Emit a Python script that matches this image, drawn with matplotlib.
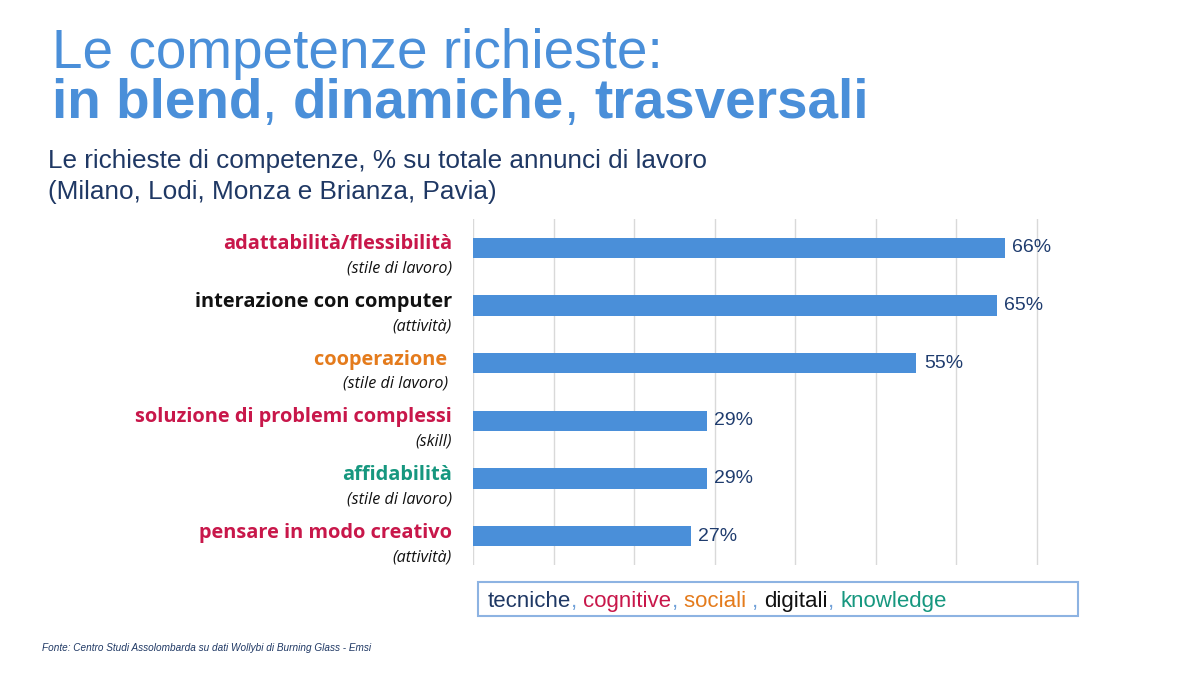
import matplotlib
matplotlib.use("Agg")
import matplotlib.pyplot as plt
from matplotlib.transforms import blended_transform_factory, offset_copy

# dati
skills = ["adattabilità/flessibilità", "interazione con computer", "cooperazione ",
          "soluzione di problemi complessi", "affidabilità", "pensare in modo creativo"]
kinds = ["(stile di lavoro)", "(attività)", "(stile di lavoro) ", "(skill)",
         "(stile di lavoro)", "(attività)"]
groups = ["cognitive", "digitali", "sociali", "cognitive", "knowledge", "cognitive"]
values = [66, 65, 55, 29, 29, 27]

legend_words = ["tecniche", "cognitive", "sociali ", "digitali", "knowledge"]
legend_groups = ["tecniche", "cognitive", "sociali", "digitali", "knowledge"]

group_color = {
    "tecniche": "#1F3864",
    "cognitive": "#C8174A",
    "sociali": "#E47B1C",
    "digitali": "#111111",
    "knowledge": "#16977F",
}
BLUE = "#4A8FD9"
NAVY = "#1F3C6E"

W, H = 1200, 674
fig = plt.figure(figsize=(12, 6.74), dpi=100)
fig.patch.set_facecolor("white")


def runs(x, y, pieces, **common):
    # scrive pezzi di testo uno dopo l'altro (coordinate in pixel dall'alto)
    r = fig.canvas.get_renderer()
    for s, kw in pieces:
        t = fig.text(x / W, 1 - y / H, s, ha="left", va="baseline", **common, **kw)
        bb = t.get_window_extent(renderer=r)
        x = bb.x1


# titolo
runs(52, 68, [("Le competenze richieste:", {})], fontsize=39.5, color=BLUE,
     family="Liberation Sans")
runs(52, 118, [("in blend", {"fontweight": "bold"}), (", ", {}),
               ("dinamiche", {"fontweight": "bold"}), (", ", {}),
               ("trasversali", {"fontweight": "bold"})],
     fontsize=39.5, color=BLUE, family="Liberation Sans")

# sottotitolo
runs(48, 168, [("Le richieste di competenze, % su totale annunci di lavoro", {})],
     fontsize=18.8, color="#1F3864", family="Liberation Sans")
runs(48, 199, [("(Milano, Lodi, Monza e Brianza, Pavia)", {})],
     fontsize=18.8, color="#1F3864", family="Liberation Sans")

# grafico a barre
ax = fig.add_axes([473 / W, 1 - 565 / H, 566.4 / W, 346 / H])
y = list(range(len(values)))
ax.barh(y, values, height=0.35, color=BLUE, zorder=3)
ax.set_xlim(0, 70.3)
ax.set_ylim(len(values) - 0.5, -0.5)
ax.set_xticks(range(0, 71, 10))
ax.grid(axis="x", color="#D9D9D9", linewidth=1, zorder=0)
ax.tick_params(length=0, labelbottom=False, labelleft=False)
for s in ax.spines.values():
    s.set_visible(False)

for i, v in enumerate(values):
    ax.annotate(f"{v}%", (v, i), xytext=(5.5, 0), textcoords="offset points",
                ha="left", va="center", fontsize=14, color=NAVY,
                family="Liberation Sans")

tr = blended_transform_factory(fig.transFigure, ax.transData)
for i, (name, kind, g) in enumerate(zip(skills, kinds, groups)):
    ax.text(452 / W, i, name, transform=offset_copy(tr, fig=fig, y=2.5, units="points"),
            ha="right", va="center", fontsize=14.4, fontweight="bold",
            color=group_color[g], family="Open Sans")
    ax.text(452 / W, i, kind, transform=offset_copy(tr, fig=fig, y=-15, units="points"),
            ha="right", va="center", fontsize=11.6, style="italic",
            color="#111111", family="Open Sans")

# riquadro legenda colori
box = plt.Rectangle((478 / W, 1 - 616 / H), 600 / W, 34 / H, transform=fig.transFigure,
                    facecolor="white", edgecolor="#8DB3E2", linewidth=1.5)
fig.add_artist(box)
pieces = []
for k, (w, g) in enumerate(zip(legend_words, legend_groups)):
    pieces.append((w, {"color": group_color[g]}))
    if k < len(legend_words) - 1:
        pieces.append((", ", {"color": "#6FA0D8"}))
runs(488, 607, pieces, fontsize=16, family="Liberation Sans")

# fonte
runs(42, 651, [("Fonte: Centro Studi Assolombarda su dati Wollybi di Burning Glass - Emsi", {})],
     fontsize=7.2, style="italic", color="#1F3864", family="Liberation Sans")

fig.savefig("out.png", dpi=100)
